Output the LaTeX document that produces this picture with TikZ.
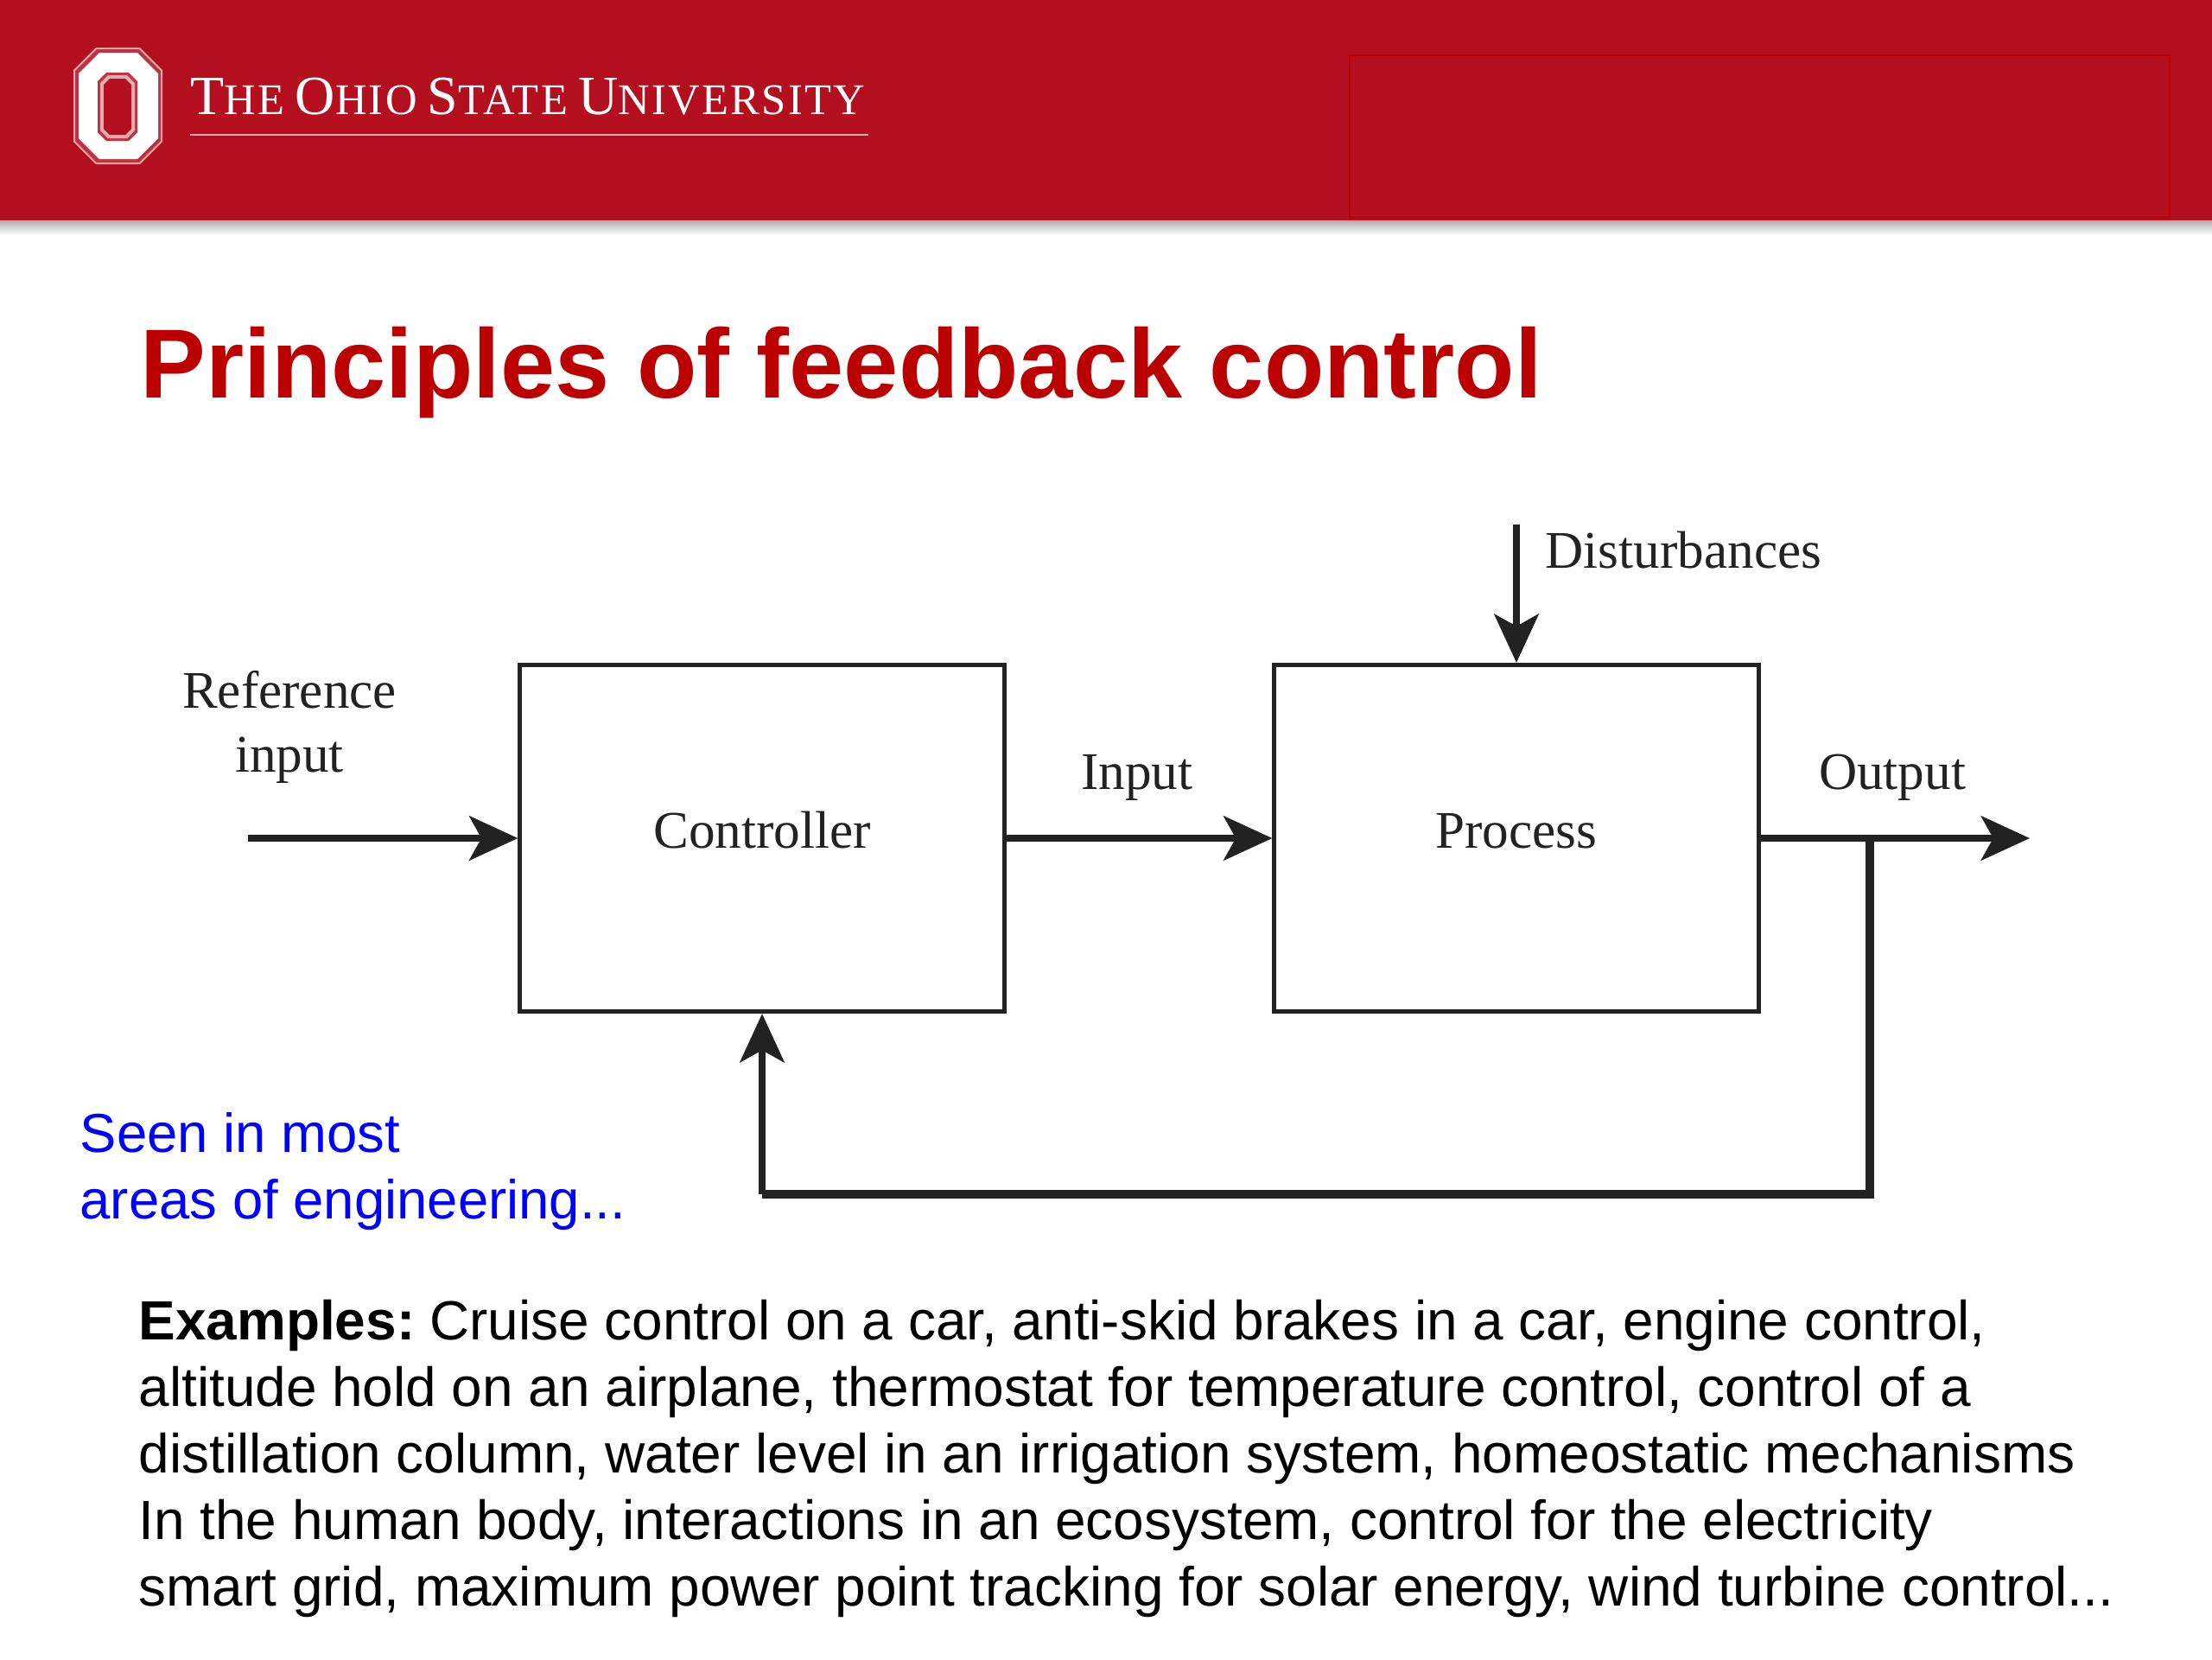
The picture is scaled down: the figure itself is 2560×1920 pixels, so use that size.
\documentclass[tikz,border=0pt]{standalone}
\usepackage{fontspec}
\setmainfont{Liberation Sans}
\newfontfamily\serifface{Liberation Serif}
\newfontfamily\bannerface[LetterSpace=4.6]{Liberation Serif}
\usetikzlibrary{arrows.meta}
\definecolor{osuband}{RGB}{179,15,30}
\definecolor{osuline}{RGB}{187,0,0}
\definecolor{inkline}{RGB}{34,34,34}
\newcommand{\bigCap}[1]{{\fontsize{18.2}{20}\selectfont #1}}
\newcommand{\smallCap}[1]{{\fontsize{14.4}{20}\selectfont #1}}
\newcommand{\fillOct}[6]{% colour, corners: x1,y1,x2,y2, chamfer
  \fill[#1] (#2+#6,#3) -- (#4-#6,#3) -- (#4,#3+#6) -- (#4,#5-#6) -- (#4-#6,#5) -- (#2+#6,#5) -- (#2,#5-#6) -- (#2,#3+#6) -- cycle;
}
\tikzset{
  blockbox/.style={draw=inkline,line width=1.4pt,minimum width=5.6cm,minimum height=4.01cm,text height=12pt,text depth=5.7pt,inner sep=0pt,font=\serifface\fontsize{17.4}{21}\selectfont,text=inkline},
  signal/.style={draw=inkline,line width=2.2pt,-{Stealth[length=16pt,width=14.6pt,inset=4pt]}},
  feedback/.style={draw=inkline,line width=2.8pt,line cap=square},
  sigtext/.style={inner sep=0pt,font=\serifface\fontsize{17.4}{20.9}\selectfont,text=inkline},
  slidetext/.style={inner sep=0pt,align=left,font=\fontsize{18.17}{21.95}\selectfont},
}
\begin{document}
\begin{tikzpicture}[x=0.01cm,y=-0.01cm]
\useasboundingbox (0,0) rectangle (2560,1920);

% Banner
\shade[top color=black!32,bottom color=white] (0,255) rectangle (2560,272);
\fill[osuband] (0,0) rectangle (2560,255);
\draw[osuline,line width=0.6pt] (1562,64) rectangle (2511,252);

% Block O
\fillOct{white!65!osuband}{85}{55}{188}{190}{26}
\fillOct{osuband!85!white}{87}{57}{186}{188}{25}
\fillOct{white}{91}{61}{183}{184}{24}
\fillOct{osuband!85!white}{113}{84}{159}{163}{10}
\fillOct{white!65!osuband}{116}{87}{156}{160}{9}
\fillOct{osuband}{120}{91}{152}{156}{7}

\node[inner sep=0pt,anchor=base west,text=white,font=\bannerface] (osuname) at (220,132)
  {\bigCap{T}\smallCap{HE}\hspace{0.5pt} \bigCap{O}\smallCap{HIO}\hspace{0.5pt} \bigCap{S}\smallCap{TATE}\hspace{0.5pt} \bigCap{U}\smallCap{NIVERSITY}};
\draw[white!65!osuband,line width=0.7pt] (220,156) -- (1005,156);

% Title
\node[inner sep=0pt,anchor=base west,text=osuline,font=\fontsize{32.3}{40}\selectfont\bfseries] (slidetitle) at (162,460) {Principles of feedback control};

% Blocks
\node[blockbox] (controller) at (882,970) {Controller};
\node[blockbox] (process) at (1755,970) {Process};

\coordinate (refstart) at (287,970);
\coordinate (outend) at (2349,970);
\coordinate (diststart) at (1755,607);
\coordinate (tap) at (2164,972);
\coordinate (backright) at (2164,1382);
\coordinate (backleft) at (882,1382);

\draw[signal] (refstart) -- (controller.west);
\draw[signal] (controller.east) -- (process.west);
\draw[signal] (process.east) -- (outend);
\draw[signal] (diststart) -- (process.north);
\draw[feedback] (tap) -- (backright) -- (backleft);
\draw[signal] (backleft) -- (controller.south);

% Signal labels
\node[sigtext,align=center,anchor=south] (reflabel) at (335,907) {Reference\\input};
\node[sigtext,anchor=base] (inputlabel) at (1316,913) {Input};
\node[sigtext,anchor=base] (outputlabel) at (2190,913) {Output};
\node[sigtext,anchor=base west] (distlabel) at (1788,657) {Disturbances};

% Slide text
\node[slidetext,text=blue,anchor=north west,font=\fontsize{18.05}{21.95}\selectfont] (seenlabel) at (92,1287) {Seen in most\\areas of engineering...};
\node[slidetext,anchor=north west] (examples) at (160,1503) {\textbf{Examples:}\hspace{-1.9pt} Cruise control on a car, anti-skid brakes in a car, engine control,\\
altitude hold on an airplane, thermostat for temperature control, control of a\\
distillation column, water level in an irrigation system, homeostatic mechanisms\\
In the human body, interactions in an ecosystem, control for the electricity\\
smart grid, maximum power point tracking for solar energy, wind turbine control...};
\end{tikzpicture}
\end{document}
